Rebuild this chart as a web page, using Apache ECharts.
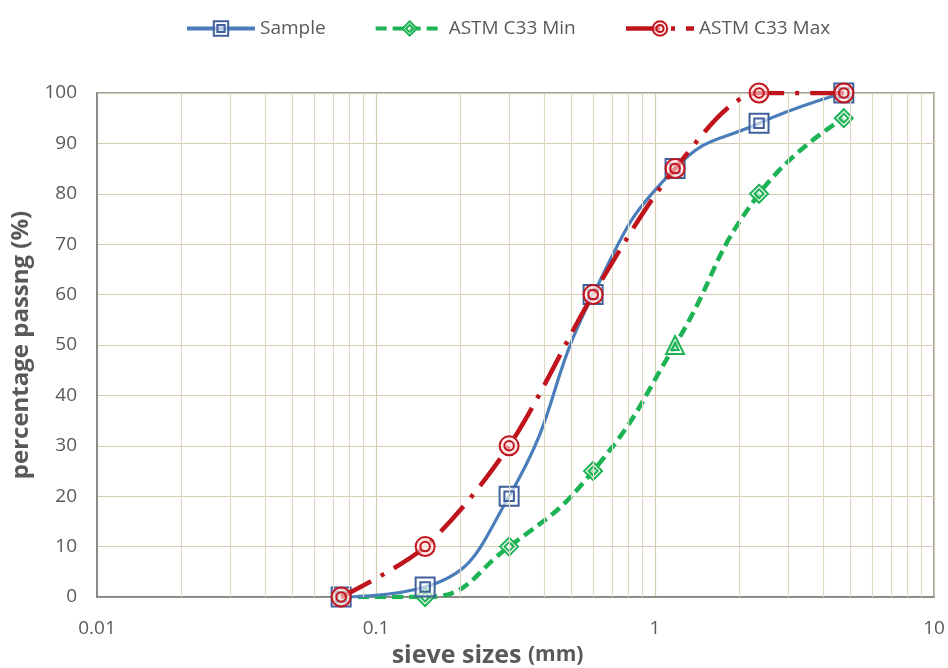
<!DOCTYPE html>
<html><head><meta charset="utf-8">
<script src="https://cdn.jsdelivr.net/npm/echarts@6/dist/echarts.min.js"></script>
<style>html,body{margin:0;padding:0;background:#fff}#c{width:948px;height:668px}</style>
</head><body><div id="c"></div>
<script>
const sieveSizes = [0.075, 0.15, 0.3, 0.6, 1.18, 2.36, 4.75];
const sampleVals = [0, 2, 20, 60, 85, 94, 100];
const minVals = [0, 0, 10, 25, 50, 80, 95];
const maxVals = [0, 10, 30, 60, 85, 100, 100];
const minorGrid = [0.02,0.03,0.04,0.05,0.06,0.07,0.08,0.09,0.2,0.3,0.4,0.5,0.6,0.7,0.8,0.9,2,3,4,5,6,7,8,9];
const legendNames = ['Sample', 'ASTM C33 Min', 'ASTM C33 Max'];

const SQ = 'path://M0,0 H20 V20 H0 Z M5,5 H15 V15 H5 Z';
const DI = 'path://M10,0 L20,10 L10,20 L0,10 Z M10,5 L15,10 L10,15 L5,10 Z';
const CI = 'path://M10,0 A10,10 0 1,1 10,20 A10,10 0 1,1 10,0 Z M10,5 A5,5 0 1,1 10,15 A5,5 0 1,1 10,5 Z';
const TR = 'path://M10,0 L20,18 L0,18 Z M10,7 L14,14 L6,14 Z';

const font = '"Open Sans", Lato, sans-serif';
const cBlue = '#4a7ebb', cGreen = '#1db354', cRed = '#c0141c';
function pts(vals, special) {
  return sieveSizes.map((x, i) => {
    const d = { value: [x, vals[i]] };
    if (special && special[i]) d.symbol = special[i];
    return d;
  });
}

const chart = echarts.init(document.getElementById('c'), null, { renderer: 'canvas' });
chart.setOption({
  animation: false,
  backgroundColor: '#fff',
  textStyle: { fontFamily: font },
  legend: {
    top: 14, left: 180,
    itemWidth: 68, itemHeight: 18, itemGap: 48,
    data: [
      { name: legendNames[0], lineStyle: { width: 4, color: cBlue } },
      { name: legendNames[1], lineStyle: { width: 4, color: cGreen } },
      { name: legendNames[2], lineStyle: { width: 4.5, color: cRed } }
    ],
    textStyle: { fontSize: 19, color: '#595959', fontFamily: font }
  },
  grid: { left: 97, right: 14, top: 93, bottom: 71, show: true, borderColor: '#7f7f7f', borderWidth: 1.5, outerBoundsMode: 'none', containLabel: false },
  xAxis: {
    type: 'log', logBase: 10, min: 0.01, max: 10,
    name: 'sieve sizes {s|(mm)}', nameLocation: 'middle', nameGap: 40,
    nameTextStyle: { fontSize: 25, fontWeight: 'bold', color: '#595959', fontFamily: font,
      padding: [0, 56, 0, 0],
      rich: { s: { fontSize: 21, fontWeight: 'bold', color: '#595959', fontFamily: font } } },
    axisLine: { lineStyle: { color: '#7f7f7f', width: 1.5 } },
    axisTick: { show: false },
    axisLabel: { fontSize: 19, color: '#595959', margin: 22, fontFamily: font },
    splitLine: { show: true, lineStyle: { color: '#d3ccb3', width: 1.2 } }
  },
  yAxis: {
    type: 'value', min: 0, max: 100, interval: 10,
    name: 'percentage passng (%)', nameLocation: 'middle', nameGap: 58,
    nameTextStyle: { fontSize: 24, fontWeight: 'bold', color: '#595959', fontFamily: font },
    axisLine: { show: true, lineStyle: { color: '#7f7f7f', width: 1.5 } },
    axisTick: { show: false },
    axisLabel: { fontSize: 19, color: '#595959', margin: 20, fontFamily: font },
    splitLine: { show: true, lineStyle: { color: '#d3ccb3', width: 1.2 } }
  },
  series: [
    {
      name: '_minor', type: 'line', data: [], z: 0, silent: true,
      markLine: {
        silent: true, symbol: 'none', label: { show: false },
        lineStyle: { color: '#ddd7c3', width: 1.1, type: 'solid' },
        data: minorGrid.map(v => ({ xAxis: v }))
      }
    },
    {
      name: 'ASTM C33 Min', type: 'line', smooth: 0.5, z: 3,
      data: pts(minVals, { 4: TR }),
      symbol: DI, symbolSize: 18,
      lineStyle: { color: cGreen, width: 4.5, type: [11, 6] },
      itemStyle: { color: 'rgba(255,255,255,0.6)', borderColor: cGreen, borderWidth: 2 }
    },
    {
      name: 'Sample', type: 'line', smooth: 0.5, z: 4,
      data: pts(sampleVals),
      symbol: SQ, symbolSize: 19,
      lineStyle: { color: cBlue, width: 3.2 },
      itemStyle: { color: 'rgba(255,255,255,0.6)', borderColor: '#3f5f9a', borderWidth: 2 }
    },
    {
      name: 'ASTM C33 Max', type: 'line', smooth: 0.3, z: 5,
      data: pts(maxVals),
      symbol: CI, symbolSize: 19,
      lineStyle: { color: cRed, width: 4.5, type: [34, 11, 4, 11] },
      itemStyle: { color: 'rgba(255,220,220,0.6)', borderColor: cRed, borderWidth: 2 }
    }
  ]
});
</script></body></html>
